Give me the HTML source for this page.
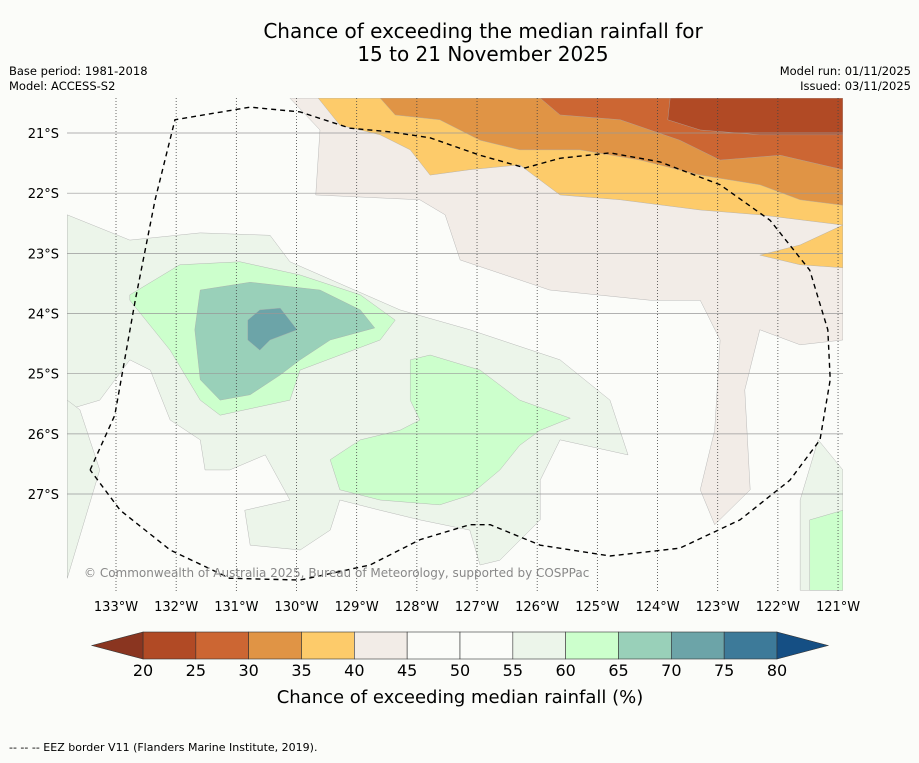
<!DOCTYPE html>
<html><head><meta charset="utf-8"><style>
body{margin:0;background:#fbfcf9;font-family:"Liberation Sans",sans-serif}
svg text{font-family:"DejaVu Sans","Liberation Sans",sans-serif}
</style></head><body>
<svg id="s" width="919" height="758" xmlns="http://www.w3.org/2000/svg">
<rect width="919" height="758" fill="#fbfcf9"/>
<text x="483" y="38" font-size="20" text-anchor="middle">Chance of exceeding the median rainfall for</text>
<text x="483" y="61" font-size="20" text-anchor="middle">15 to 21 November 2025</text>
<text x="9" y="75" font-size="11.5">Base period: 1981-2018</text>
<text x="9" y="90" font-size="11.5">Model: ACCESS-S2</text>
<text x="911" y="75" font-size="11.5" text-anchor="end">Model run: 01/11/2025</text>
<text x="911" y="90" font-size="11.5" text-anchor="end">Issued: 03/11/2025</text>
<defs><clipPath id="mc"><rect x="67" y="98" width="776" height="493"/></clipPath></defs>
<g id="map" clip-path="url(#mc)"><rect x="67" y="98" width="776" height="493" fill="#fbfcf9"/></g>
<g id="grid"></g>
<g id="eez"></g>
<text x="84" y="577" font-size="12" fill="#888">© Commonwealth of Australia 2025, Bureau of Meteorology, supported by COSPPac</text>
<g id="axes"></g>
<g id="cbar"></g>
<text x="460" y="703" font-size="18" text-anchor="middle">Chance of exceeding median rainfall (%)</text>
<text x="9" y="751" font-size="11">-- -- -- EEZ border V11 (Flanders Marine Institute, 2019).</text>
</svg>
<script>
const lonTicks=[133,132,131,130,129,128,127,126,125,124,123,122,121];
const latTicks=[21,22,23,24,25,26,27];
const levels=[20,25,30,35,40,45,50,55,60,65,70,75,80];
const binColors=["#b14a25","#cc6633","#e09445","#fdcb6a","#f2ece7","#fbfcf9","#fbfcf9","#ecf5ea","#ccffcc","#99d0b9","#6ca4a8","#3d7a99"];
const underColor="#8a3520", overColor="#154f84";
// filled contour regions: [level-bin index, [[lonW,latS],...]]
const tan=[[130.11,20.42],[129.61,20.95],[129.68,22.03],[127.95,22.11],[127.53,22.36],[127.28,23.11],[125.79,23.61],[124.12,23.78],[123.29,23.78],[122.96,24.44],[123.05,25.94],[123.29,26.93],[123.05,27.51],[122.46,26.93],[122.55,25.27],[122.30,24.27],[121.63,24.52],[120.92,24.44],[120.92,20.42]];
const yellow=[[129.64,20.42],[129.28,20.87],[128.61,21.03],[128.11,21.28],[127.78,21.70],[127.12,21.61],[126.29,21.53],[125.62,22.03],[124.62,22.11],[123.29,22.28],[122.30,22.36],[120.92,22.53],[120.92,20.42]];
const yellow2=[[122.30,23.03],[121.63,22.86],[120.92,22.53],[120.92,23.24],[121.63,23.19]];
const orange=[[128.61,20.42],[128.36,20.70],[127.62,20.78],[126.95,21.12],[126.29,21.28],[125.29,21.28],[124.29,21.45],[123.29,21.70],[122.30,21.86],[121.63,22.11],[120.92,22.20],[120.92,20.42]];
const dorange=[[125.95,20.42],[125.62,20.70],[124.62,20.78],[123.63,21.12],[122.96,21.45],[121.96,21.37],[120.92,21.61],[120.92,20.42]];
const brown=[[123.79,20.42],[123.83,20.78],[123.29,20.95],[122.30,21.03],[120.92,21.03],[120.92,20.42]];
const lg1=[[133.81,22.36],[132.77,22.78],[131.60,22.66],[130.44,22.70],[130.11,23.14],[128.28,23.94],[127.12,24.27],[125.62,24.77],[124.79,25.44],[124.49,26.35],[125.62,26.10],[125.95,26.77],[125.95,27.43],[126.62,28.10],[126.95,28.18],[127.12,27.60],[127.95,27.43],[128.61,27.27],[129.28,27.10],[129.44,27.60],[129.94,27.93],[130.77,27.85],[130.86,27.27],[130.11,27.10],[130.52,26.35],[131.11,26.60],[131.52,26.60],[131.60,26.10],[132.10,25.77],[132.43,24.94],[132.77,24.77],[133.27,25.44],[133.81,25.60]];
const lg2=[[121.63,28.60],[121.63,27.10],[121.33,26.10],[120.92,26.60],[120.92,28.60]];
const lg3=[[133.81,25.44],[133.60,25.60],[133.27,26.60],[133.81,28.40]];
const g1=[[132.77,23.69],[131.94,23.19],[130.94,23.14],[129.94,23.36],[128.94,23.69],[128.36,24.11],[128.61,24.44],[129.94,24.94],[130.11,25.44],[131.27,25.69],[131.60,25.44],[132.10,24.61],[132.77,23.78]];
const g2=[[128.11,24.77],[127.78,24.69],[126.95,24.94],[126.29,25.44],[125.45,25.74],[125.95,25.94],[126.29,26.19],[126.62,26.60],[127.12,27.02],[127.62,27.18],[128.61,27.10],[129.28,26.93],[129.44,26.43],[128.94,26.10],[128.28,25.94],[127.95,25.77],[128.11,25.44]];
const g3=[[121.47,28.60],[121.47,27.43],[120.92,27.27],[120.92,28.60]];
const t1=[[131.60,23.61],[130.77,23.48],[129.61,23.61],[128.94,23.94],[128.70,24.24],[129.44,24.44],[129.94,24.77],[130.27,25.02],[130.77,25.35],[131.27,25.44],[131.60,25.10],[131.69,24.27]];
const t2=[[130.81,24.11],[130.61,23.94],[130.27,23.91],[129.99,24.27],[130.44,24.44],[130.61,24.61],[130.81,24.44]];
const regions=[[4,tan],[3,yellow],[3,yellow2],[2,orange],[1,dorange],[0,brown],[7,lg1],[7,lg2],[7,lg3],[8,g1],[8,g2],[8,g3],[9,t1],[10,t2]];
const eezPts=[[133.43,26.60],[133.02,25.69],[132.68,23.78],[132.35,22.11],[132.02,20.78],[130.77,20.57],[129.94,20.65],[129.11,20.92],[128.45,20.98],[127.78,21.08],[126.95,21.37],[126.20,21.58],[125.62,21.42],[124.79,21.33],[123.96,21.48],[122.96,21.86],[122.13,22.45],[121.47,23.28],[121.17,24.27],[121.13,25.10],[121.30,26.10],[121.80,26.77],[122.63,27.43],[123.63,27.90],[124.79,28.03],[125.95,27.85],[126.78,27.51],[127.12,27.51],[127.95,27.76],[128.78,28.18],[129.94,28.43],[131.11,28.40],[132.10,27.93],[132.93,27.27],[133.43,26.60]];
const X=lon=>116+(133-lon)*60.17, Y=lat=>133+(lat-21)*60.17;
const NS="http://www.w3.org/2000/svg";
function mk(t,a,p){const e=document.createElementNS(NS,t);for(const k in a)e.setAttribute(k,a[k]);p.appendChild(e);return e;}
const map=document.getElementById('map');
regions.forEach(([b,pts])=>{
  const e=mk('polygon',{points:pts.map(p=>X(p[0])+','+Y(p[1])).join(' '),fill:binColors[b],stroke:'#aaa','stroke-width':0.4},map);
  
  
});
const grid=document.getElementById('grid'),axes=document.getElementById('axes');
lonTicks.forEach(l=>{
  const ln=mk('line',{x1:X(l),x2:X(l),y1:98,y2:591,stroke:'#444','stroke-width':0.8,'stroke-dasharray':'1,2'},grid);
  
  
  const t=mk('text',{x:X(l),y:611,'font-size':13,'text-anchor':'middle'},axes);t.textContent=l+'°W';
  
  
});
latTicks.forEach(l=>{
  const ln=mk('line',{x1:67,x2:843,y1:Y(l),y2:Y(l),stroke:'#999','stroke-width':0.7},grid);
  
  
  const t=mk('text',{x:59,y:Y(l)+5,'font-size':13,'text-anchor':'end'},axes);t.textContent=l+'°S';
  
  
});
const eez=mk('polyline',{points:eezPts.map(p=>X(p[0])+','+Y(p[1])).join(' '),fill:'none',stroke:'#000','stroke-width':1.4,'stroke-dasharray':'5,4'},document.getElementById('eez'));


const cb=document.getElementById('cbar');
const CX=v=>143+(v-20)*(777-143)/60, y0=632,y1=659;
for(let i=0;i<binColors.length;i++){
  const r=mk('rect',{x:CX(levels[i]),y:y0,width:CX(levels[i+1])-CX(levels[i]),height:y1-y0,fill:binColors[i],stroke:'#333','stroke-width':0.6},cb);
  
  
}
const u=mk('polygon',{points:`${CX(20)},${y0} 92,${(y0+y1)/2} ${CX(20)},${y1}`,fill:underColor,stroke:'#333','stroke-width':0.6},cb);


const o=mk('polygon',{points:`${CX(80)},${y0} 828,${(y0+y1)/2} ${CX(80)},${y1}`,fill:overColor,stroke:'#333','stroke-width':0.6},cb);


levels.forEach(v=>{
  const t=mk('text',{x:CX(v),y:676,'font-size':16,'text-anchor':'middle'},cb);t.textContent=v;
  
  
});
</script>
</body></html>
